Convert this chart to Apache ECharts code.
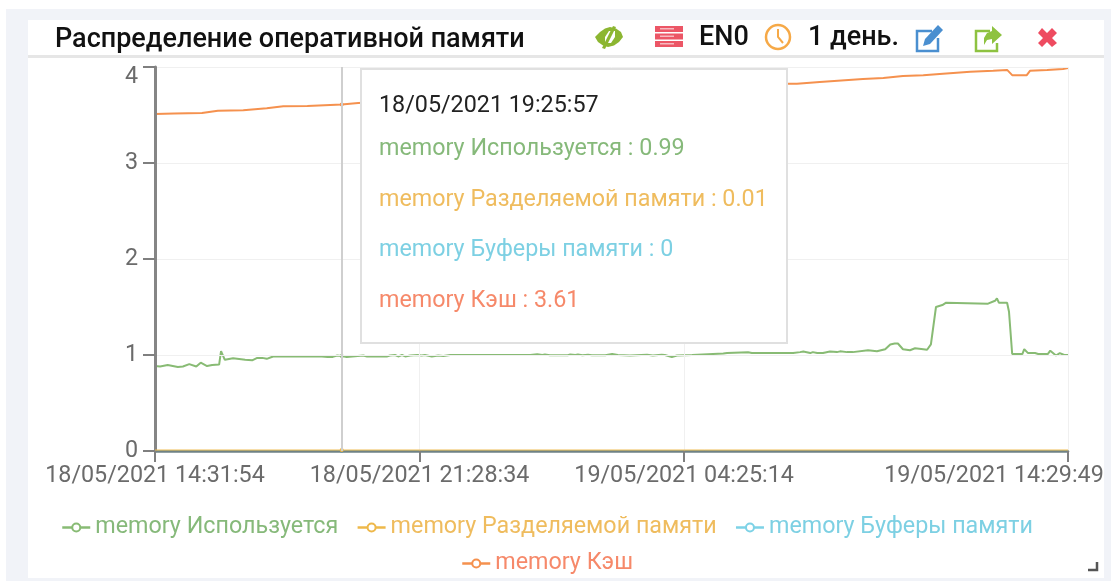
<!DOCTYPE html>
<html><head><meta charset="utf-8">
<style>html,body{margin:0;padding:0;background:#fff}#c{width:1111px;height:581px}</style>
<script src="https://cdn.jsdelivr.net/npm/echarts@6/dist/echarts.min.js"></script>
</head><body><div id="c"></div>
<script>
const chartTitle = 'Распределение оперативной памяти';
const startSeconds = 14*3600 + 31*60 + 54;
const xTicks = [0, 416.667, 833.333, 1437.917];
const xTickLabels = ['18/05/2021 14:31:54','18/05/2021 21:28:34','19/05/2021 04:25:14','19/05/2021 14:29:49'];
const seriesNames = ['memory Используется','memory Разделяемой памяти','memory Буферы памяти','memory Кэш'];
const usedMinutes = [0,8,20,36,44,54,65,72,82,90,101,102,104,110,123,142,153,161,169,176,186,263,266,272,280,287,294.05,302,328,334,365,370,378,383,389,394,402,413,420,425,436,446,454,465,591,602,610,614,622,650,654,662,666,673,682,688,709,712,720,729,748,775,784,798,803,814,822,846,847,895,901,934,940,973,976,981,1005,1016,1021,1032,1036,1043,1052,1063,1074,1079,1090,1099,1123,1137,1150,1158,1165,1170,1178,1189,1197,1210,1216,1222,1225,1230,1240,1246,1249,1312,1323,1326,1329,1342,1345,1350,1366,1369,1375,1386,1391,1406,1410,1413,1419,1425,1432,1437.917];
const usedValues = [.885,.88,.895,.875,.88,.905,.88,.92,.885,.895,.9,.9,1.04,.95,.965,.95,.945,.97,.97,.96,.985,.985,.995,.98,.98,.995,.99,.98,.995,.985,.985,.995,1,.985,1,.985,.995,1,.995,1,.985,.995,.99,1,1,1.007,1,1.005,.997,.997,1.005,1,1.005,.997,1.002,.997,.997,1.005,1.01,1,.995,1.003,.995,1.002,1,.98,.995,1,1.01,1.015,1.02,1.028,1.02,1.02,1.03,1.02,1.02,1.03,1.036,1.02,1.03,1.02,1.02,1.036,1.03,1.038,1.03,1.03,1.05,1.04,1.06,1.11,1.12,1.12,1.06,1.05,1.07,1.06,1.055,1.11,1.095,1.5,1.52,1.545,1.535,1.535,1.565,1.59,1.545,1.545,1.45,1.01,1.01,1.06,1.02,1.02,1.01,1.01,1.045,1.045,.995,1.02,1,1];
const sharedMinutes = [0,294.05,1437.917];
const sharedValues = [.01,.01,.01];
const bufferMinutes = [0,294.05,1437.917];
const bufferValues = [0,0,0];
const cacheMinutes = [0,30,74,99,139,176,202,240,294.05,320,465,622,780,890,997,1011,1047,1115,1147,1178,1210,1241,1284,1320,1342,1350,1373,1378,1405,1430,1437.917];
const cacheValues = [3.51,3.515,3.52,3.545,3.55,3.57,3.59,3.595,3.61,3.625,3.667,3.71,3.76,3.79,3.825,3.825,3.845,3.875,3.885,3.905,3.915,3.93,3.95,3.96,3.97,3.915,3.915,3.96,3.97,3.98,3.99];
const tooltipMinute = 294.05;
const lineColors = ['#88bb74','#eeb84a','#7dd2e6','#f5914e'];
const textColors = ['#86b97a','#efbc5e','#7dd0e3','#f6896a'];

const pad = n => String(n).padStart(2,'0');
function minuteLabel(m){
  let s = startSeconds + Math.round(m*60);
  const day = 18 + Math.floor(s/86400); s %= 86400;
  return pad(day)+'/05/2021 '+pad(Math.floor(s/3600))+':'+pad(Math.floor(s%3600/60))+':'+pad(s%60);
}
const zip = (a,b) => a.map((x,i)=>[x,b[i]]);
const seriesData = [zip(usedMinutes,usedValues),zip(sharedMinutes,sharedValues),zip(bufferMinutes,bufferValues),zip(cacheMinutes,cacheValues)];
const font = 'Roboto';
const labelSize = 23.3;
const poly = (points,fill,z=3) => ({type:'polygon',silent:true,z,shape:{points},style:{fill}});
const rect = (x,y,width,height,fill,z=3) => ({type:'rect',silent:true,z,shape:{x,y,width,height},style:{fill}});
const pline = (points,stroke,lineWidth) => ({type:'polyline',silent:true,z:3,shape:{points},style:{fill:'none',stroke,lineWidth}});
const headText = (text,x) => ({type:'text',silent:true,z:3,x,y:38,style:{text,fontFamily:font,fontSize:27,fontWeight:500,fill:'#111',textVerticalAlign:'middle'}});
const legendBase = {itemWidth:28,itemHeight:10,itemGap:18,itemStyle:{borderWidth:2},lineStyle:{width:2.5},textStyle:{fontFamily:font,fontSize:labelSize}};
const legendItem = (name) => ({name,textStyle:{color:textColors[seriesNames.indexOf(name)]}});
const tickLabelStyle = {fontFamily:font,fontSize:labelSize,color:'#6b6b6b'};
const seriesZ = [2,4,1,2];
const seriesWidth = [2,1,2,2];

const chart = echarts.init(document.getElementById('c'),null,{renderer:'canvas'});
chart.setOption({
  animation:false,
  backgroundColor:'#fff',
  textStyle:{fontFamily:font},
  title:{text:chartTitle,left:50,top:22,textStyle:{fontFamily:font,fontSize:27,fontWeight:500,color:'#111'}},
  graphic:{elements:[
    rect(6,9,1105,572,'#f1f3f8',-10),
    rect(28,20,1076,558,'#fff',-9),
    rect(28,55,1076,3,'#e6e6e6',-8),
    // eye with slash
    poly([[595,37],[600,32],[605,28.5],[610,27],[616,28.5],[621,32],[623,37],[619,42],[614,45.5],[608,47],[603,45.5],[598,42]],'#8cb631'),
    poly([[605,37],[609,31],[615,31],[615,37],[611,43],[605,43]],'#fff',4),
    poly([[613,26],[616,27],[605,49],[602,48]],'#8cb631',5),
    // server
    rect(655,26,28,6,'#ec5666'), rect(655,33.5,28,6,'#ec5666'), rect(655,41,28,6,'#ec5666'),
    rect(660,28,14,1.5,'#f7b8bf',4), rect(660,35.5,14,1.5,'#f7b8bf',4), rect(660,43,14,1.5,'#f7b8bf',4),
    headText('EN0',699),
    // clock
    {type:'circle',silent:true,z:3,shape:{cx:778,cy:37,r:12},style:{fill:'none',stroke:'#f6a947',lineWidth:2.5}},
    pline([[778,29],[778,37],[783,43]],'#f6a947',2),
    headText('1 день.',808),
    // edit
    pline([[932,31],[917,31],[917,51],[938,51],[938,38]],'#4a8fd0',2.5),
    poly([[938,25],[943,30],[930,44],[923,46],[925,39]],'#4a8fd0'),
    // share
    pline([[990,31],[976,31],[976,51],[997,51],[997,43]],'#8ec241',2.5),
    poly([[992,26],[1002,35],[992,44],[992,39],[987,40],[984,45],[984,38],[987,33],[992,31]],'#8ec241'),
    // close
    poly([[1042,28],[1047,33],[1052,28],[1057,33],[1052,38],[1057,43],[1052,47],[1047,42],[1042,47],[1038,43],[1043,38],[1038,33]],'#ee4b60'),
    // resize corner
    pline([[1097,562],[1097,570],[1088,570]],'#555',2.5)
  ]},
  grid:{left:155,right:43,top:67,bottom:130,containLabel:false,outerBoundsMode:'none'},
  legend:[
    {...legendBase,left:56,top:511,data:seriesNames.slice(0,3).map(legendItem)},
    {...legendBase,left:456,top:547,data:seriesNames.slice(3).map(legendItem)}
  ],
  tooltip:{
    trigger:'axis',
    alwaysShowContent:true,
    transitionDuration:0,
    showDelay:0,hideDelay:0,
    position:[360,68],
    backgroundColor:'#fff',
    borderColor:'#e0e0e0',borderWidth:2,padding:0,
    extraCssText:'box-shadow:none;box-sizing:border-box;width:428px;height:276px;border-radius:0;',
    axisPointer:{type:'line',axis:'x',lineStyle:{color:'#cfcfcf',width:2,type:'solid'},label:{show:false}},
    formatter:params=>{
      const row=(t,c,top)=>`<div style="position:absolute;left:17px;top:${top}px;font:${labelSize}px/24px Roboto;color:${c};white-space:nowrap">${t}</div>`;
      let h=row(minuteLabel(params[0].axisValue),'#222',22);
      const tops=[65,116,166,217];
      params.forEach((p,i)=>{h+=row(p.seriesName+' : '+p.value[1],textColors[p.seriesIndex],tops[i]);});
      return h;
    }
  },
  xAxis:{
    type:'value',min:0,max:1437.917,z:3,
    axisLine:{show:true,lineStyle:{color:'#6f8285',width:2.5}},
    axisTick:{show:true,length:11,lineStyle:{color:'#7f7f7f',width:2},customValues:xTicks},
    axisLabel:{...tickLabelStyle,margin:14,customValues:xTicks,
      formatter:v=>{
        const i=xTicks.findIndex(t=>Math.abs(t-v)<0.01);
        if(i<0) return '';
        return i===xTicks.length-1 ? '{last|'+xTickLabels[i]+'}' : xTickLabels[i];
      },
      rich:{last:{...tickLabelStyle,padding:[0,148,0,0]}}},
    splitLine:{show:true,lineStyle:{color:'#f0f0f0',width:1}}
  },
  yAxis:{
    type:'value',min:0,max:4,interval:1,z:3,
    axisLine:{show:true,lineStyle:{color:'#858585',width:3}},
    axisTick:{show:true,length:12,lineStyle:{color:'#7f7f7f',width:2}},
    axisLabel:{...tickLabelStyle,margin:17,
      formatter:v=>v===4?'{top|4}':String(v),
      rich:{top:{...tickLabelStyle,padding:[20,0,0,0]}}},
    splitLine:{show:true,lineStyle:{color:'#f0f0f0',width:1}}
  },
  series:seriesNames.map((name,i)=>({
    name,type:'line',data:seriesData[i],
    z:seriesZ[i],
    symbol:'emptyCircle',symbolSize:0,showSymbol:false,
    itemStyle:{color:lineColors[i]},
    lineStyle:{color:lineColors[i],width:seriesWidth[i]},
    emphasis:{disabled:true},
    legendHoverLink:false
  }))
});
const pt = chart.convertToPixel({gridIndex:0},[tooltipMinute,2]);
chart.dispatchAction({type:'showTip',x:pt[0],y:pt[1]});
</script></body></html>
